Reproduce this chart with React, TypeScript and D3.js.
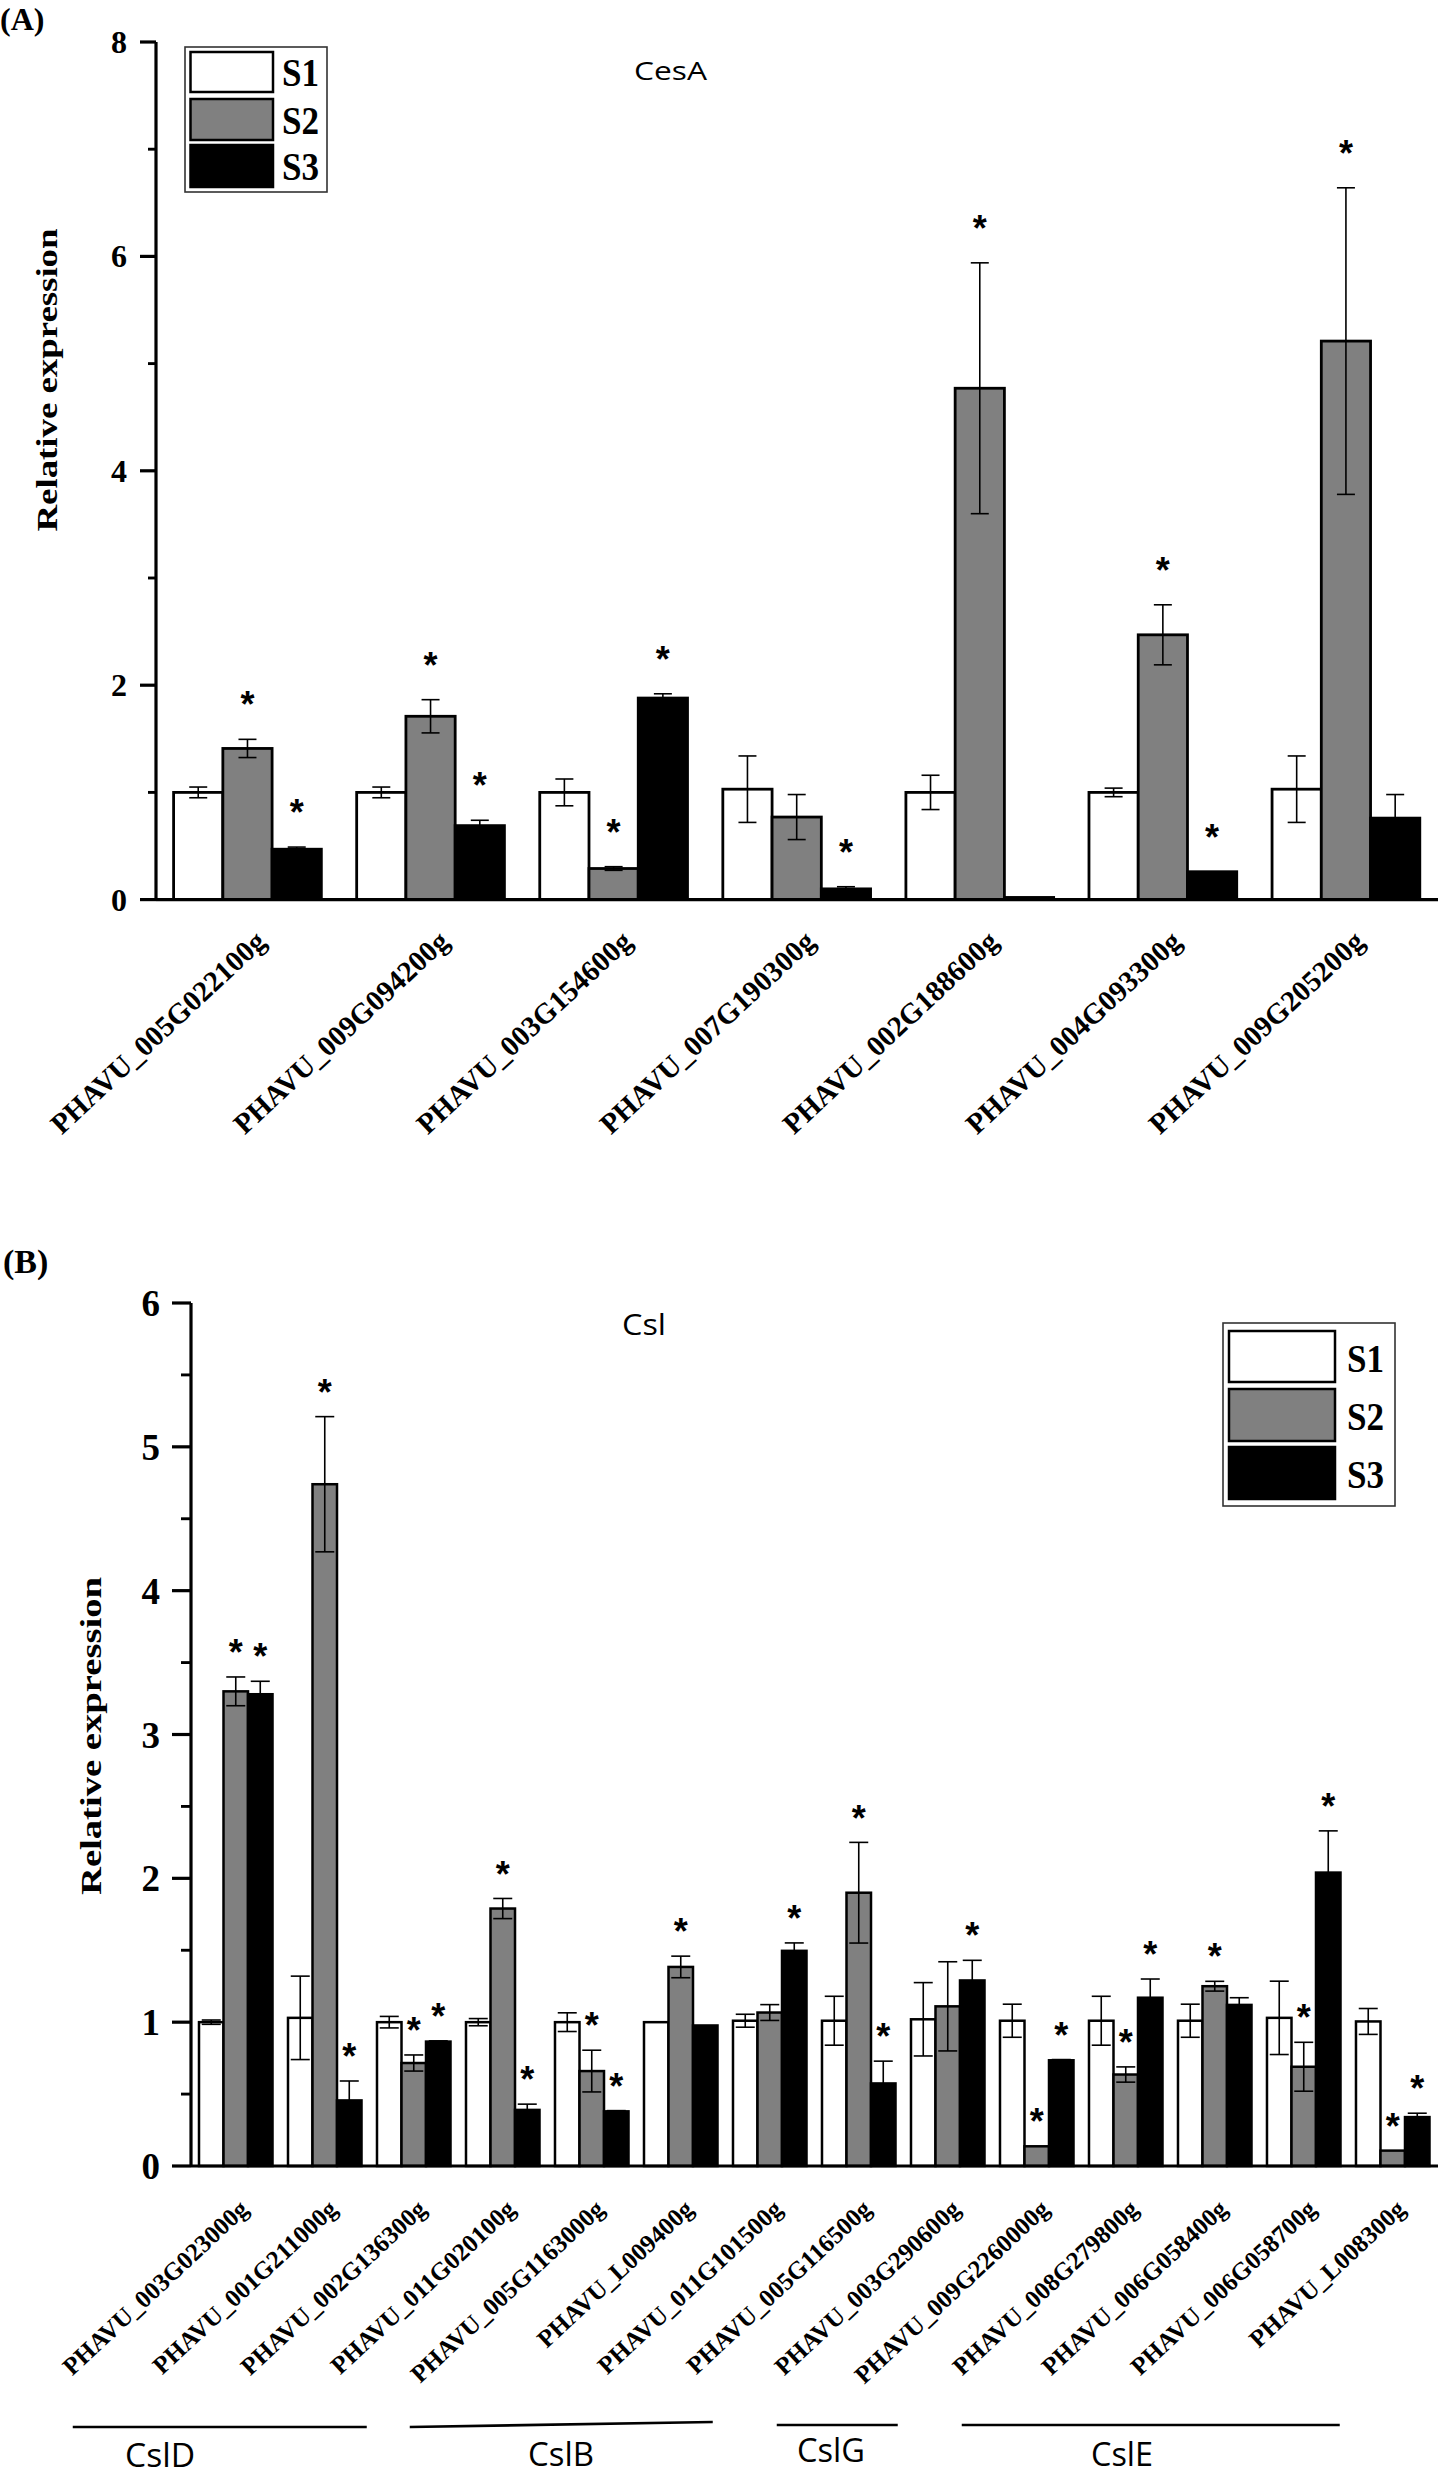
import React from "react";
import * as d3 from "d3";

// ---------------- DATA ----------------
const seriesNames = ["S1", "S2", "S3"];
const seriesFills = ["#ffffff", "#808080", "#000000"];

// Panel A : CesA
const genesA = [
  "PHAVU_005G022100g",
  "PHAVU_009G094200g",
  "PHAVU_003G154600g",
  "PHAVU_007G190300g",
  "PHAVU_002G188600g",
  "PHAVU_004G093300g",
  "PHAVU_009G205200g",
];
const meanA_S1 = [1.0, 1.0, 1.0, 1.03, 1.0, 1.0, 1.03];
const meanA_S2 = [1.41, 1.71, 0.29, 0.77, 4.77, 2.47, 5.21];
const meanA_S3 = [0.47, 0.69, 1.88, 0.1, 0.02, 0.26, 0.76];
const errA_S1 = [0.05, 0.05, 0.125, 0.31, 0.16, 0.04, 0.31];
const errA_S2 = [0.085, 0.155, 0.017, 0.21, 1.17, 0.28, 1.43];
const errA_S3 = [0.02, 0.05, 0.04, 0.02, 0, 0, 0.22];
const sigA_S1 = [0, 0, 0, 0, 0, 0, 0];
const sigA_S2 = [1, 1, 1, 0, 1, 1, 1];
const sigA_S3 = [1, 1, 1, 1, 0, 1, 0];

// Panel B : Csl
const genesB = [
  "PHAVU_003G023000g",
  "PHAVU_001G211000g",
  "PHAVU_002G136300g",
  "PHAVU_011G020100g",
  "PHAVU_005G1163000g",
  "PHAVU_L009400g",
  "PHAVU_011G101500g",
  "PHAVU_005G116500g",
  "PHAVU_003G290600g",
  "PHAVU_009G2260000g",
  "PHAVU_008G279800g",
  "PHAVU_006G058400g",
  "PHAVU_006G058700g",
  "PHAVU_L008300g",
];
const meanB_S1 = [1.0, 1.03, 1.0, 1.0, 1.0, 1.0, 1.01, 1.01, 1.02, 1.01, 1.01, 1.01, 1.03, 1.005];
const meanB_S2 = [3.3, 4.74, 0.716, 1.79, 0.66, 1.384, 1.067, 1.9, 1.11, 0.137, 0.636, 1.25, 0.69, 0.107];
const meanB_S3 = [3.28, 0.456, 0.865, 0.39, 0.38, 0.977, 1.496, 0.574, 1.29, 0.735, 1.17, 1.12, 2.04, 0.34];
const errB_S1 = [0.015, 0.29, 0.04, 0.025, 0.065, 0, 0.045, 0.17, 0.255, 0.115, 0.17, 0.115, 0.255, 0.09];
const errB_S2 = [0.1, 0.47, 0.056, 0.07, 0.145, 0.075, 0.055, 0.35, 0.31, 0, 0.053, 0.034, 0.17, 0];
const errB_S3 = [0.09, 0.135, 0.005, 0.04, 0.005, 0, 0.055, 0.155, 0.14, 0.005, 0.13, 0.05, 0.29, 0.027];
const sigB_S1 = [0, 0, 0, 0, 0, 0, 0, 0, 0, 0, 0, 0, 0, 0];
const sigB_S2 = [1, 1, 1, 1, 1, 1, 0, 1, 0, 1, 1, 1, 1, 1];
const sigB_S3 = [1, 1, 1, 1, 1, 0, 1, 1, 1, 1, 1, 0, 1, 1];

// Csl sub-family groups (first gene index, last gene index)
const cslGroupNames = ["CslD", "CslB", "CslG", "CslE"];
const cslGroupFirst = [0, 3, 6, 8];
const cslGroupLast = [2, 5, 7, 13];

// ---------------- LAYOUT ----------------
const SERIF = "'Liberation Serif', 'Times New Roman', serif";
const SANS = "'Open Sans', 'Liberation Sans', sans-serif";
const STARFONT = "'Liberation Sans', Arial, sans-serif";

const panelA = {
  genes: genesA,
  means: [meanA_S1, meanA_S2, meanA_S3],
  errs: [errA_S1, errA_S2, errA_S3],
  sigs: [sigA_S1, sigA_S2, sigA_S3],
  yMax: 8,
  majorStep: 2,
  axisX: 156,
  yTop: 42,
  yBottom: 899.6,
  barsLeft: 173.6,
  barsRight: 1419.8,
  padInner: 0.193,
  xEnd: 1438,
  axisW: 3.2,
  majorLen: 16,
  minorLen: 8,
  tickFont: 32,
  tickRight: 127,
  tickBase: 11,
  barStroke: 2.8,
  errW: 1.6,
  capW: 18,
  starFont: 36,
  starOff: 42,
  labelFont: 29,
  labelDx: 20,
  labelDy: 44,
  labelAngle: -43,
  yLabel: { cx: 47, cy: 380, font: 29, len: 303 },
  tag: { text: "(A)", x: 0, y: 30, font: 32 },
  title: { text: "CesA", x: 634, y: 80, font: 25, len: 73 },
  legend: {
    x0: 185, x1: 327, y0: 47, y1: 192, sx0: 190.5, sx1: 273,
    rows: [[52, 92], [99, 140], [145, 187]], tx: 282, tw: 37, font: 40, base: 14,
  },
};

const panelB = {
  genes: genesB,
  means: [meanB_S1, meanB_S2, meanB_S3],
  errs: [errB_S1, errB_S2, errB_S3],
  sigs: [sigB_S1, sigB_S2, sigB_S3],
  yMax: 6,
  majorStep: 1,
  axisX: 191,
  yTop: 1303,
  yBottom: 2166,
  barsLeft: 199,
  barsRight: 1429.5,
  padInner: 0.174,
  xEnd: 1438,
  axisW: 3.2,
  majorLen: 19,
  minorLen: 10,
  tickFont: 37,
  tickRight: 160,
  tickBase: 13,
  barStroke: 2.5,
  errW: 1.6,
  capW: 19,
  starFont: 36,
  starOff: 32,
  labelFont: 25,
  labelDx: 14,
  labelDy: 45,
  labelAngle: -43,
  yLabel: { cx: 90, cy: 1736, font: 30, len: 318 },
  tag: { text: "(B)", x: 3, y: 1273, font: 34 },
  title: { text: "Csl", x: 622, y: 1335, font: 30, len: 44 },
  legend: {
    x0: 1223, x1: 1395, y0: 1323, y1: 1506, sx0: 1229, sx1: 1335,
    rows: [[1331, 1382], [1389, 1441], [1447, 1499]], tx: 1347, tw: 37, font: 40, base: 15,
  },
};

// bracket offsets (px) relative to first / last gene centre, for the Csl groups
const bracketLayout = [
  { d1: -163, d2: -47, y1: 2427, y2: 2427, tx: 160, ty: 2467, tw: 70 },
  { d1: -93, d2: 32, y1: 2427, y2: 2422, tx: 561, ty: 2466, tw: 66 },
  { d1: 7, d2: 39, y1: 2425, y2: 2425, tx: 831, ty: 2462, tw: 68 },
  { d1: 14, d2: -53, y1: 2425, y2: 2425, tx: 1122, ty: 2466, tw: 62 },
];

function renderPanel(p: any, key: string) {
  const y = d3.scaleLinear().domain([0, p.yMax]).range([p.yBottom, p.yTop]);
  const x0 = d3
    .scaleBand<string>()
    .domain(p.genes)
    .range([p.barsLeft, p.barsRight])
    .paddingInner(p.padInner)
    .paddingOuter(0);
  const x1 = d3.scaleBand<string>().domain(seriesNames).range([0, x0.bandwidth()]);
  const major = d3.range(0, p.yMax + 1e-9, p.majorStep);
  const minor = d3.range(p.majorStep / 2, p.yMax, p.majorStep);
  const lg = p.legend;

  const bars: any[] = [];
  const errBars: any[] = [];
  const stars: any[] = [];
  p.genes.forEach((g: string, i: number) => {
    seriesNames.forEach((s, k) => {
      const v = p.means[k][i];
      const e = p.errs[k][i];
      const bx = (x0(g) as number) + (x1(s) as number);
      const bw = x1.bandwidth();
      const cx = bx + bw / 2;
      bars.push(
        <rect
          key={`b${i}${k}`}
          x={bx}
          y={y(v)}
          width={bw}
          height={y(0) - y(v)}
          fill={seriesFills[k]}
          stroke="#000"
          strokeWidth={p.barStroke}
        />
      );
      if (e > 0) {
        const yt = y(v + e);
        const yb = y(Math.max(0, v - e));
        errBars.push(
          <g key={`e${i}${k}`} stroke="#000" strokeWidth={p.errW}>
            <line x1={cx} x2={cx} y1={yt} y2={yb} />
            <line x1={cx - p.capW / 2} x2={cx + p.capW / 2} y1={yt} y2={yt} />
            <line x1={cx - p.capW / 2} x2={cx + p.capW / 2} y1={yb} y2={yb} />
          </g>
        );
      }
      if (p.sigs[k][i]) {
        const top = y(v + e);
        stars.push(
          <text
            key={`s${i}${k}`}
            x={cx}
            y={top - p.starOff + 0.56 * p.starFont}
            textAnchor="middle"
            fontFamily={STARFONT}
            fontWeight="bold"
            fontSize={p.starFont}
          >
            *
          </text>
        );
      }
    });
  });

  return (
    <g key={key}>
      <text x={p.tag.x} y={p.tag.y} fontFamily={SERIF} fontWeight="bold" fontSize={p.tag.font}>
        {p.tag.text}
      </text>
      <text
        x={p.title.x}
        y={p.title.y}
        fontFamily={SANS}
        fontSize={p.title.font}
        textLength={p.title.len}
        lengthAdjust="spacingAndGlyphs"
      >
        {p.title.text}
      </text>
      <text
        transform={`translate(${p.yLabel.cx},${p.yLabel.cy}) rotate(-90)`}
        textAnchor="middle"
        dominantBaseline="central"
        fontFamily={SERIF}
        fontWeight="bold"
        fontSize={p.yLabel.font}
        textLength={p.yLabel.len}
        lengthAdjust="spacingAndGlyphs"
      >
        Relative expression
      </text>
      {bars}
      {errBars}
      {stars}
      <line x1={p.axisX} x2={p.axisX} y1={y(p.yMax)} y2={y(0)} stroke="#000" strokeWidth={p.axisW} />
      <line x1={p.axisX} x2={p.xEnd} y1={y(0)} y2={y(0)} stroke="#000" strokeWidth={p.axisW} />
      {major.map((t: number) => (
        <g key={`mt${t}`}>
          <line x1={p.axisX - p.majorLen} x2={p.axisX} y1={y(t)} y2={y(t)} stroke="#000" strokeWidth={p.axisW} />
          <text
            x={p.tickRight}
            y={y(t) + p.tickBase}
            textAnchor="end"
            fontFamily={SERIF}
            fontWeight="bold"
            fontSize={p.tickFont}
          >
            {d3.format("d")(t)}
          </text>
        </g>
      ))}
      {minor.map((t: number) => (
        <line
          key={`mn${t}`}
          x1={p.axisX - p.minorLen}
          x2={p.axisX}
          y1={y(t)}
          y2={y(t)}
          stroke="#000"
          strokeWidth={p.axisW * 0.9}
        />
      ))}
      {p.genes.map((g: string) => {
        const cx = (x0(g) as number) + x0.bandwidth() / 2;
        return (
          <text
            key={`xl${g}`}
            transform={`translate(${cx + p.labelDx},${y(0) + p.labelDy}) rotate(${p.labelAngle})`}
            textAnchor="end"
            fontFamily={SERIF}
            fontWeight="bold"
            fontSize={p.labelFont}
          >
            {g}
          </text>
        );
      })}
      <rect
        x={lg.x0}
        y={lg.y0}
        width={lg.x1 - lg.x0}
        height={lg.y1 - lg.y0}
        fill="#fff"
        stroke="#333"
        strokeWidth={1.6}
      />
      {seriesNames.map((s, k) => (
        <g key={`lg${s}`}>
          <rect
            x={lg.sx0}
            y={lg.rows[k][0]}
            width={lg.sx1 - lg.sx0}
            height={lg.rows[k][1] - lg.rows[k][0]}
            fill={seriesFills[k]}
            stroke="#000"
            strokeWidth={2.5}
          />
          <text
            x={lg.tx}
            y={(lg.rows[k][0] + lg.rows[k][1]) / 2 + lg.base}
            fontFamily={SERIF}
            fontWeight="bold"
            fontSize={lg.font}
            textLength={lg.tw}
            lengthAdjust="spacingAndGlyphs"
          >
            {s}
          </text>
        </g>
      ))}
      {key === "B"
        ? cslGroupNames.map((name, gi) => {
            const b = bracketLayout[gi];
            const c1 = (x0(p.genes[cslGroupFirst[gi]]) as number) + x0.bandwidth() / 2;
            const c2 = (x0(p.genes[cslGroupLast[gi]]) as number) + x0.bandwidth() / 2;
            return (
              <g key={`grp${name}`}>
                <line x1={c1 + b.d1} x2={c2 + b.d2} y1={b.y1} y2={b.y2} stroke="#000" strokeWidth={2.6} />
                <text
                  x={b.tx}
                  y={b.ty}
                  textAnchor="middle"
                  fontFamily={SANS}
                  fontSize={32}
                  textLength={b.tw}
                  lengthAdjust="spacingAndGlyphs"
                >
                  {name}
                </text>
              </g>
            );
          })
        : null}
    </g>
  );
}

export default function App() {
  return (
    <svg
      width={1440}
      height={2480}
      viewBox="0 0 1440 2480"
      style={{ position: "absolute", left: 0, top: 0, background: "#fff" }}
    >
      <rect x={0} y={0} width={1440} height={2480} fill="#fff" />
      {renderPanel(panelA, "A")}
      {renderPanel(panelB, "B")}
    </svg>
  );
}
